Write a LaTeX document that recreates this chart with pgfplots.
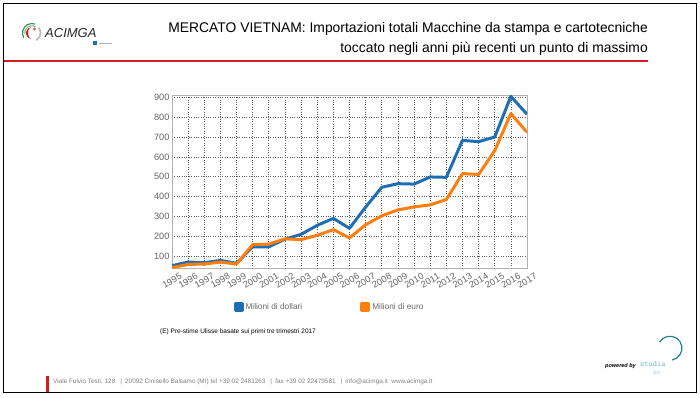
\documentclass[border=0pt]{standalone}
\usepackage{fontspec}
\usepackage{graphicx}
\usepackage{pgfplots}
\pgfplotsset{compat=1.18}
\setmainfont{Liberation Sans}
\newfontfamily\titlefont[FakeStretch=0.99]{Liberation Sans}
\definecolor{cblue}{RGB}{31,110,180}
\definecolor{corange}{RGB}{255,127,14}
\definecolor{tickgray}{RGB}{100,100,100}
\definecolor{acired}{RGB}{210,30,35}
\definecolor{teal1}{RGB}{40,160,180}
\definecolor{logogreen}{RGB}{60,150,80}
\begin{document}
\begin{tikzpicture}
\useasboundingbox (0pt,0pt) rectangle (700pt,-398pt);
\begin{scope}[x=1pt,y=-1pt]
% frame
\draw[line width=1.6pt] (3.5,3.5) rectangle (696.5,392.5);
% logo emblem
\draw[line width=1.6pt, gray!55] (32,33) ++(60:8.5) arc[start angle=60, end angle=-40, radius=8.5];
\draw[line width=1.2pt, logogreen] (32,33) ++(150:9.5) arc[start angle=150, end angle=290, radius=9.5];
\draw[line width=1.0pt, logogreen!70] (32,33) ++(170:7.2) arc[start angle=170, end angle=300, radius=7.2];
\fill[acired] (32,33) ++(100:6) arc[start angle=100, end angle=260, radius=6]
  arc[start angle=260, end angle=100, x radius=3.5, y radius=6] -- cycle;
\fill[acired!70] (34.5,29) circle[radius=1.6];
\node[anchor=base west, inner sep=0pt, text=gray!30!black, font=\fontsize{13}{13}\selectfont\itshape] at (45,37.5) {ACIMGA};
\fill[cblue] (93,41) rectangle (97,45);
\draw[gray!60, line width=0.5pt] (99,43) -- (112,43);
% title
\node[anchor=base east, inner sep=0pt, font=\titlefont\fontsize{14}{14}\selectfont] at (648,32.7) {MERCATO VIETNAM: Importazioni totali Macchine da stampa e cartotecniche};
\node[anchor=base east, inner sep=0pt, font=\titlefont\fontsize{14}{14}\selectfont] at (648,52.7) {toccato negli anni più recenti un punto di massimo};
\draw[acired, line width=2pt] (4,61) -- (648,61);
% footnote
\node[anchor=base west, inner sep=0pt, font=\fontsize{6.5}{7}\selectfont] at (160,333) {(E) Pre-stime Ulisse basate sui primi tre trimestri 2017};
% footer
\fill[acired] (45.5,376) rectangle (48.5,392);
\node[anchor=base west, inner sep=0pt, text=gray, font=\fontsize{6.4}{7}\selectfont] at (53,383) {Viale Fulvio Testi, 128 \enspace|\enspace 20092 Cinisello Balsamo (MI) tel +39 02 2481263 \enspace|\enspace fax +39 02 22479581 \enspace|\enspace info@acimga.it\ \ www.acimga.it};
\node[anchor=base west, inner sep=0pt, font=\fontsize{5.5}{6}\selectfont\itshape\bfseries] at (605,367) {powered by};
\node[anchor=base west, inner sep=0pt, text=teal1!70, font=\fontsize{8}{8}\selectfont\ttfamily] at (640,366) {studia};
\node[anchor=base west, inner sep=0pt, text=teal1!50, font=\fontsize{7}{7}\selectfont\ttfamily] at (653,374) {bo};
\draw[teal1!80!black, line width=1.2pt] (672,360) arc[start angle=80, end angle=-150, radius=12];
\end{scope}
\begin{axis}[
  at={(172pt,-268pt)}, anchor=south west,
  scale only axis, width=355pt, height=173pt,
  xmin=1995, xmax=2017, ymin=40, ymax=912,
  xtick={1995,1996,...,2017}, ytick={100,200,...,900},
  /pgf/number format/assume math mode=true,
  xticklabel style={/pgf/number format/1000 sep={}, rotate=30},
  yticklabel style={xshift=1pt},
  tick label style={font=\fontsize{9.2}{10}\selectfont, text=tickgray},
  grid=major, major grid style={dotted, draw=gray!70!black, line width=0.7pt},
  axis line style={draw=gray!60, line width=0.8pt},
  major tick length=0pt,
  legend columns=2,
  legend style={draw=none, fill=none, at={(0.4437,-0.2254)}, anchor=center,
    font=\fontsize{8.3}{10}\selectfont, text=gray!80!black,
    /tikz/every even column/.append style={column sep=56pt}},
  legend image code/.code={\fill[#1] (0pt,-3.5pt) rectangle (7pt,3.5pt);},
]
\addplot[cblue, line width=3pt, line join=round] coordinates {
(1995,52) (1996,70) (1997,67) (1998,78) (1999,64) (2000,147) (2001,147) (2002,185)
(2003,210) (2004,255) (2005,290) (2006,240) (2007,347) (2008,447) (2009,465)
(2010,463) (2011,499) (2012,497) (2013,683) (2014,677) (2015,700) (2016,905) (2017,815)};
\addlegendentry{Milioni di dollari}
\addplot[corange, line width=3pt, line join=round] coordinates {
(1995,42) (1996,58) (1997,60) (1998,70) (1999,60) (2000,158) (2001,160) (2002,187)
(2003,183) (2004,205) (2005,233) (2006,192) (2007,258) (2008,303) (2009,333)
(2010,348) (2011,358) (2012,385) (2013,516) (2014,511) (2015,632) (2016,818) (2017,724)};
\addlegendentry{Milioni di euro}
\end{axis}
\end{tikzpicture}
\end{document}
